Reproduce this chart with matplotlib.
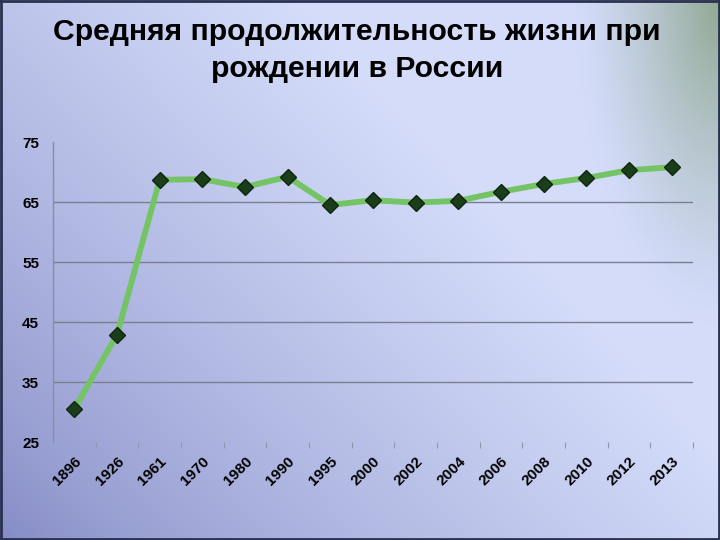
#!/usr/bin/env python3
"""Life expectancy at birth in Russia - line chart on a gradient slide background."""

import numpy as np
import matplotlib
matplotlib.use('Agg')
import matplotlib.pyplot as plt

# Data
years = ['1896', '1926', '1961', '1970', '1980', '1990', '1995', '2000',
         '2002', '2004', '2006', '2008', '2010', '2012', '2013']
life_exp = [30.5, 42.9, 68.7, 68.8, 67.5, 69.2, 64.5, 65.3,
            64.9, 65.2, 66.7, 68.0, 69.0, 70.3, 70.8]
y_ticks = [25, 35, 45, 55, 65, 75]
title = 'Средняя продолжительность жизни при\nрождении в России'

plt.rcParams['font.family'] = ['Liberation Sans', 'DejaVu Sans']

W, H = 720, 540
fig = plt.figure(figsize=(W / 100, H / 100), dpi=100)

# Background gradient: darker lavender bottom-left, light blue centre,
# greyish green in the top-right corner
yy, xx = np.mgrid[0:H, 0:W]
u = xx / W
v = 1 - yy / H
t = np.clip((u * 1.0 + v * 0.7) / 1.1, 0, 1) ** 0.75
dark = np.array([0x84, 0x8a, 0xc4]) / 255
light = np.array([0xd4, 0xdc, 0xfa]) / 255
img = dark + (light - dark) * t[..., None]
green = np.array([0x90, 0xa8, 0x92]) / 255
d = np.sqrt(((u - 1.0) / 0.2) ** 2 + ((v - 1.0) / 0.6) ** 2)
g = np.clip(1 - d, 0, 1) ** 1.3
img = img * (1 - g[..., None]) + green * g[..., None]

bg = fig.add_axes([0, 0, 1, 1])
bg.imshow(img, aspect='auto', extent=[0, 1, 0, 1], origin='upper')
bg.axis('off')
# dark slide frame
for sp_x in (0.0015, 0.9985):
    bg.axvline(sp_x, color='#2a3050', lw=2)
for sp_y in (0.002, 0.998):
    bg.axhline(sp_y, color='#2a3050', lw=2)
bg.set_xlim(0, 1)
bg.set_ylim(0, 1)

fig.text(0.496, 0.906, title, ha='center', va='center', fontsize=21.7,
         fontweight='bold', color='black', linespacing=1.42)

ax = fig.add_axes([53 / W, 1 - 442 / H, 640 / W, 300 / H])
ax.patch.set_alpha(0)
x = np.arange(len(years))
ax.plot(x, life_exp, color='#74c466', lw=4.2, solid_joinstyle='round', zorder=3)
ax.plot(x, life_exp, ls='none', marker='D', markersize=8.5,
        markerfacecolor='#1a3d1a', markeredgecolor='#0e260e', zorder=4)

ax.set_ylim(25, 75)
ax.set_xlim(-0.5, len(years) - 0.5)
ax.set_yticks(y_ticks)
ax.set_yticklabels([str(v) for v in y_ticks], fontsize=11, fontweight='bold')
for gy in y_ticks[1:-1]:
    ax.axhline(gy, color='#7a7f90', lw=1, zorder=1)

ax.set_xticks(x)
ax.set_xticklabels(years, rotation=45, ha='right', va='top',
                   rotation_mode='anchor', fontsize=11, fontweight='bold')
ax.set_xticks(np.arange(len(years)) + 0.5, minor=True)
ax.tick_params(axis='x', which='major', length=0, pad=9)
ax.tick_params(axis='x', which='minor', length=4, color='#9098b0', width=0.8)
ax.tick_params(axis='y', length=0, pad=10)

for s in ('top', 'right', 'bottom'):
    ax.spines[s].set_visible(False)
ax.spines['left'].set_color('#8a8fa0')
ax.spines['left'].set_linewidth(1)

fig.savefig('out.png', dpi=100)
